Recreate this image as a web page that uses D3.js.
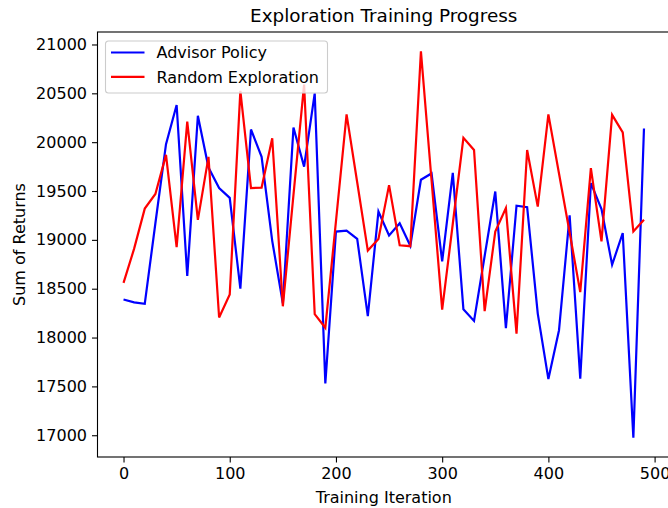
<!DOCTYPE html>
<html>
<head>
<meta charset="utf-8">
<script src="https://cdn.jsdelivr.net/npm/d3@7"></script>
<style>
    body { margin: 0; background: white; }
    text { font-family: "DejaVu Sans", sans-serif; fill: #000; }
</style>
</head>
<body>
<svg id="chart"></svg>
<script>
// Data
const iterations = [0, 10, 20, 30, 40, 50, 60, 70, 80, 90,
    100, 110, 120, 130, 140, 150, 160, 170, 180, 190,
    200, 210, 220, 230, 240, 250, 260, 270, 280, 290,
    300, 310, 320, 330, 340, 350, 360, 370, 380, 390,
    400, 410, 420, 430, 440, 450, 460, 470, 480, 490];

const advisorPolicy = [18390, 18360, 18345, 19170, 19980, 20380, 18630, 20270, 19740, 19530,
    19430, 18500, 20130, 19850, 18990, 18350, 20150, 19750, 20500, 17530,
    19085, 19095, 19010, 18220, 19290, 19045, 19170, 18940, 19615, 19680,
    18780, 19685, 18290, 18170, 18835, 19495, 18095, 19350, 19335, 18245,
    17575, 18075, 19250, 17580, 19580, 19315, 18745, 19070, 16975, 20140];

const randomExploration = [18560, 18910, 19320, 19470, 19870, 18925, 20210, 19205, 19850, 18205,
    18440, 20525, 19530, 19535, 20040, 18320, 19460, 20590, 18240, 18100,
    19190, 20285, 19590, 18890, 19010, 19560, 18945, 18935, 20930, 19610,
    18285, 19165, 20045, 19920, 18270, 19085, 19325, 18040, 19920, 19340,
    20285, 19680, 19075, 18465, 19735, 18985, 20280, 20100, 19085, 19205];

const seriesNames = ["Advisor Policy", "Random Exploration"];
const seriesColors = ["#0000ff", "#ff0000"];

const xTicks = [0, 100, 200, 300, 400, 500];
const yTicks = [17000, 17500, 18000, 18500, 19000, 19500, 20000, 20500, 21000];

// Dimensions
const width = 668;
const height = 508;

const margin = {
    top: 32,
    right: -2,
    bottom: 51,
    left: 97.5
};

const svg = d3.select("#chart")
    .attr("width", width)
    .attr("height", height);

const series = [advisorPolicy, randomExploration].map((vals, k) => ({
    name: seriesNames[k],
    color: seriesColors[k],
    values: vals.map((v, i) => ({ it: iterations[i], v: v }))
}));

// matplotlib style 5% margins
const xExt = d3.extent(iterations);
const xPad = (xExt[1] - xExt[0]) * 0.05;
const allY = advisorPolicy.concat(randomExploration);
const yExt = d3.extent(allY);
const yPad = (yExt[1] - yExt[0]) * 0.05;

const x = d3.scaleLinear()
    .domain([xExt[0] - xPad, xExt[1] + xPad])
    .range([margin.left, width - margin.right]);

const y = d3.scaleLinear()
    .domain([yExt[0] - yPad, yExt[1] + yPad])
    .range([height - margin.bottom, margin.top]);

// Lines
const line = d3.line()
    .x(d => x(d.it))
    .y(d => y(d.v));

const plot = svg.append("g");

plot.selectAll("path.series")
    .data(series)
    .join("path")
    .attr("class", "series")
    .attr("fill", "none")
    .attr("stroke", d => d.color)
    .attr("stroke-width", 2.2)
    .attr("stroke-linejoin", "miter")
    .attr("d", d => line(d.values));

// Axes
const xAxis = svg.append("g")
    .attr("transform", `translate(0,${height - margin.bottom})`)
    .call(d3.axisBottom(x).tickValues(xTicks).tickSize(5.5).tickPadding(5).tickFormat(d3.format("d")));

const yAxis = svg.append("g")
    .attr("transform", `translate(${margin.left},0)`)
    .call(d3.axisLeft(y).tickValues(yTicks).tickSize(5.5).tickPadding(5).tickFormat(d3.format("d")));

[xAxis, yAxis].forEach(g => {
    g.select(".domain").remove();
    g.selectAll("line").attr("stroke", "#000").attr("stroke-width", 1.1);
    g.selectAll("text")
        .style("font-family", "DejaVu Sans")
        .style("font-size", "16px")
        .attr("fill", "#000");
});

// Frame
svg.append("rect")
    .attr("x", margin.left)
    .attr("y", margin.top)
    .attr("width", width - margin.right - margin.left)
    .attr("height", height - margin.bottom - margin.top)
    .attr("fill", "none")
    .attr("stroke", "#000")
    .attr("stroke-width", 1.1);

// Titles
svg.append("text")
    .attr("x", (margin.left + width - margin.right) / 2)
    .attr("y", 21.5)
    .attr("text-anchor", "middle")
    .style("font-size", "18.4px")
    .text("Exploration Training Progress");

svg.append("text")
    .attr("x", (margin.left + width - margin.right) / 2)
    .attr("y", 503)
    .attr("text-anchor", "middle")
    .style("font-size", "16px")
    .text("Training Iteration");

svg.append("text")
    .attr("transform", "rotate(-90)")
    .attr("x", -(margin.top + height - margin.bottom) / 2)
    .attr("y", 25)
    .attr("text-anchor", "middle")
    .style("font-size", "16px")
    .text("Sum of Returns");

// Legend
const legend = svg.append("g")
    .attr("transform", `translate(${margin.left + 8},${margin.top + 9})`);

legend.append("rect")
    .attr("x", 0)
    .attr("y", 0)
    .attr("width", 222)
    .attr("height", 52)
    .attr("rx", 3)
    .attr("fill", "white")
    .attr("fill-opacity", 0.8)
    .attr("stroke", "#cccccc")
    .attr("stroke-width", 1.1);

const items = legend.selectAll("g.item")
    .data(series)
    .join("g")
    .attr("class", "item")
    .attr("transform", (d, i) => `translate(0,${11.5 + i * 24.3})`);

items.append("line")
    .attr("x1", 5.5)
    .attr("x2", 39)
    .attr("stroke", d => d.color)
    .attr("stroke-width", 2.2);

items.append("text")
    .attr("x", 51)
    .attr("y", 5.8)
    .style("font-size", "16px")
    .text(d => d.name);
</script>
</body>
</html>
